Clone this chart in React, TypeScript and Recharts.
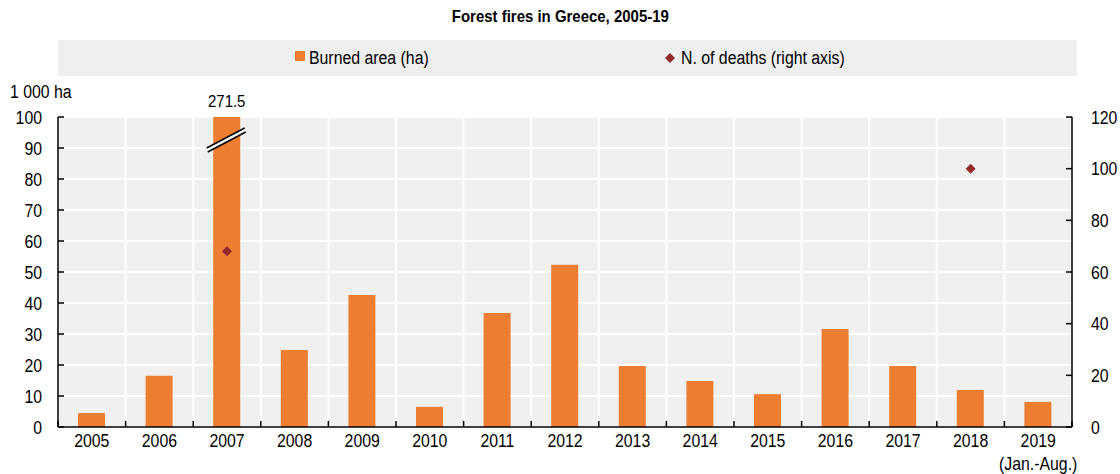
import { ComposedChart, Bar, Scatter, XAxis, YAxis, CartesianGrid, LabelList, Rectangle } from 'recharts'

const years = ['2005', '2006', '2007', '2008', '2009', '2010', '2011', '2012', '2013', '2014', '2015', '2016', '2017', '2018', '2019']
const burnedArea = [4.5, 16.5, 271.5, 24.8, 42.6, 6.5, 36.8, 52.3, 19.7, 14.8, 10.6, 31.6, 19.7, 11.9, 8.1]
const deaths = [null, null, 68, null, null, null, null, null, null, null, null, null, null, 100, null]
const leftTicks = [0, 10, 20, 30, 40, 50, 60, 70, 80, 90, 100]
const rightTicks = [0, 20, 40, 60, 80, 100, 120]
const yearNotes: Record<string, string> = { '2019': '(Jan.-Aug.)' }

const data = years.map((year, i) => ({ year, area: burnedArea[i], deaths: deaths[i] }))

const FONT = "'Liberation Sans', Arial, sans-serif"
const SX = 0.88 // squeeze to look like Arial Narrow
const ORANGE = '#ED7D31'
const DARK_RED = '#932B2B'
const AREA_MAX = 100

const W = 1120
const H = 474
const MARGIN = { top: 117, right: 8, bottom: 0, left: 18 }
const LEFT_W = 40
const RIGHT_W = 40
const PLOT_W = W - MARGIN.left - MARGIN.right - LEFT_W - RIGHT_W
const BAND = PLOT_W / years.length

const NText = ({ x, y, anchor = 'middle', size = 18, children }: any) => (
  <text
    transform={`translate(${x} ${y}) scale(${SX} 1)`}
    textAnchor={anchor}
    fontSize={size}
    fontFamily={FONT}
    fill="#000"
  >
    {children}
  </text>
)

const HText = ({ left, top, size = 18, bold = false, origin = 'left', children }: any) => (
  <div
    style={{
      position: 'absolute',
      left,
      top,
      fontSize: size,
      lineHeight: `${size}px`,
      fontWeight: bold ? 'bold' : 'normal',
      whiteSpace: 'nowrap',
      transform: `scaleX(${SX})`,
      transformOrigin: origin,
    }}
  >
    {children}
  </div>
)

const LeftTick = ({ x, y, payload }: any) => (
  <g>
    <line x1={x} x2={x + 6} y1={y} y2={y} stroke="#000" strokeWidth={1.5} />
    <NText x={x - 16} y={y + 6.5} anchor="end">{payload.value}</NText>
  </g>
)

const RightTick = ({ x, y, payload }: any) => (
  <g>
    <line x1={x} x2={x - 6} y1={y} y2={y} stroke="#000" strokeWidth={1.5} />
    <NText x={x + 19} y={y + 6.5} anchor="start">{payload.value}</NText>
  </g>
)

const YearTick = ({ x, y, payload, index }: any) => (
  <g>
    <line x1={x - BAND / 2} x2={x - BAND / 2} y1={y} y2={y - 6} stroke="#000" strokeWidth={1.5} />
    {index === years.length - 1 && (
      <line x1={x + BAND / 2} x2={x + BAND / 2} y1={y} y2={y - 6} stroke="#000" strokeWidth={1.5} />
    )}
    <NText x={x} y={y + 19.5}>{payload.value}</NText>
    {yearNotes[payload.value] && <NText x={x} y={y + 42.5}>{yearNotes[payload.value]}</NText>}
  </g>
)

// bar with a break mark when the value runs off the axis
const AreaBar = (props: any) => {
  const { x, width, payload, background } = props
  const over = payload.area > AREA_MAX
  const cx = x + width / 2
  const cy = (background ? background.y : MARGIN.top) + 22
  return (
    <g>
      <Rectangle {...props} />
      {over && (
        <g>
          <polygon
            points={`${cx - 20},${cy + 9} ${cx + 18},${cy - 11} ${cx + 19},${cy - 7} ${cx - 19},${cy + 13}`}
            fill="#fff"
          />
          <line x1={cx - 20} y1={cy + 9} x2={cx + 18} y2={cy - 11} stroke="#000" strokeWidth={1.5} />
          <line x1={cx - 19} y1={cy + 13} x2={cx + 19} y2={cy - 7} stroke="#000" strokeWidth={1.5} />
        </g>
      )}
    </g>
  )
}

const OverLabel = ({ x, width, value }: any) => {
  if (value <= AREA_MAX) return null
  return <NText x={x + width / 2} y={MARGIN.top - 10} size={17}>{value}</NText>
}

const Diamond = ({ cx, cy, payload }: any) => {
  if (payload.deaths == null) return null
  return <polygon points={`${cx},${cy - 5} ${cx + 5},${cy} ${cx},${cy + 5} ${cx - 5},${cy}`} fill={DARK_RED} />
}

export default function App() {
  return (
    <div style={{ position: 'absolute', left: 0, top: 0, width: W, height: H, background: '#fff', fontFamily: FONT }}>
      <div style={{ position: 'absolute', left: 0, width: W, top: 8, textAlign: 'center' }}>
        <span
          style={{
            display: 'inline-block',
            fontWeight: 'bold',
            fontSize: 17,
            lineHeight: '18px',
            transform: `scaleX(${SX})`,
          }}
        >
          Forest fires in Greece, 2005-19
        </span>
      </div>

      {/* legend */}
      <div style={{ position: 'absolute', left: 58, top: 40, width: 1019, height: 36, background: '#efefef' }}>
        <div style={{ position: 'absolute', left: 237, top: 11, width: 10, height: 10, background: ORANGE }} />
        <HText left={251} top={9}>Burned area (ha)</HText>
        <svg style={{ position: 'absolute', left: 607, top: 13 }} width={10} height={10}>
          <polygon points="5,0 10,5 5,10 0,5" fill={DARK_RED} />
        </svg>
        <HText left={623} top={9}>N. of deaths (right axis)</HText>
      </div>

      <HText left={10} top={83}>1 000 ha</HText>

      <div style={{ position: 'absolute', left: 0, top: 0 }}>
        <ComposedChart width={W} height={H} data={data} margin={MARGIN}>
          <CartesianGrid
            fill="#f0f0f0"
            stroke="#fff"
            strokeWidth={2}
            verticalCoordinatesGenerator={({ offset }: any) =>
              years.map((_, i) => offset.left + (i * offset.width) / years.length)
            }
          />
          <XAxis
            dataKey="year"
            height={H - MARGIN.top - 310}
            axisLine={{ stroke: '#000', strokeWidth: 1.5 }}
            tickLine={false}
            tickSize={0}
            tickMargin={0}
            tick={<YearTick />}
            interval={0}
          />
          <YAxis
            width={LEFT_W}
            domain={[0, AREA_MAX]}
            ticks={leftTicks}
            allowDataOverflow
            axisLine={{ stroke: '#000', strokeWidth: 1.5 }}
            tickLine={false}
            tickSize={0}
            tickMargin={0}
            tick={<LeftTick />}
            interval={0}
          />
          <YAxis
            yAxisId="right"
            orientation="right"
            width={RIGHT_W}
            domain={[0, 120]}
            ticks={rightTicks}
            axisLine={{ stroke: '#000', strokeWidth: 1.5 }}
            tickLine={false}
            tickSize={0}
            tickMargin={0}
            tick={<RightTick />}
            interval={0}
          />
          <Bar dataKey="area" fill={ORANGE} barSize={27} shape={<AreaBar />} isAnimationActive={false}>
            <LabelList dataKey="area" content={<OverLabel />} />
          </Bar>
          <Scatter yAxisId="right" dataKey="deaths" fill={DARK_RED} shape={<Diamond />} isAnimationActive={false} />
        </ComposedChart>
      </div>
    </div>
  )
}
